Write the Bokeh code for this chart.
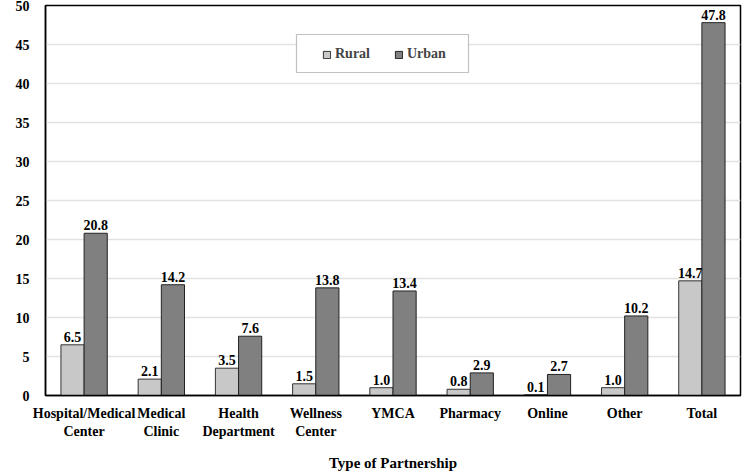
from bokeh.plotting import figure
from bokeh.models import ColumnDataSource, Legend, LegendItem, Label, FixedTicker, LabelSet, BoxAnnotation
from bokeh.transform import dodge
from bokeh.embed import file_html
from bokeh.resources import INLINE
from bokeh.core.properties import value

categories = ["Hospital/Medical\nCenter", "Medical\nClinic", "Health\nDepartment", "Wellness\nCenter",
              "YMCA", "Pharmacy", "Online", "Other", "Total"]
rural = [6.5, 2.1, 3.5, 1.5, 1.0, 0.8, 0.1, 1.0, 14.7]
urban = [20.8, 14.2, 7.6, 13.8, 13.4, 2.9, 2.7, 10.2, 47.8]
y_ticks = [0, 5, 10, 15, 20, 25, 30, 35, 40, 45, 50]

FONT = "'Liberation Serif', serif"
src = ColumnDataSource(dict(cat=categories, rural=rural, urban=urban,
                            rl=[f"{v:.1f}" for v in rural], ul=[f"{v:.1f}" for v in urban]))

p = figure(x_range=categories, y_range=(0, 50), width=748, height=473,
           output_backend="svg", toolbar_location=None,
           min_border_left=45, min_border_right=8, min_border_top=5, min_border_bottom=66)
p.outline_line_color = "black"
p.outline_line_width = 1.5

r1 = p.vbar(x=dodge("cat", -0.15, range=p.x_range), top="rural", width=0.3, source=src,
            fill_color="#c8c8c8", line_color="#333333", line_width=1)
r2 = p.vbar(x=dodge("cat", 0.15, range=p.x_range), top="urban", width=0.3, source=src,
            fill_color="#808080", line_color="#222222", line_width=1)

for col, lab, off in [("rural", "rl", -0.15), ("urban", "ul", 0.15)]:
    ls = LabelSet(x=dodge("cat", off, range=p.x_range), y=col, text=lab, source=src,
                  text_align="center", text_baseline="bottom", y_offset=3,
                  text_font=value(FONT), text_font_style="bold", text_font_size="14px",
                  text_color="black")
    p.add_layout(ls)

p.xgrid.grid_line_color = None
p.ygrid.grid_line_color = "#e2e2e2"
p.ygrid.grid_line_width = 1.5

p.yaxis.ticker = FixedTicker(ticks=y_ticks)
p.yaxis.major_tick_line_color = None
p.yaxis.minor_tick_line_color = None
p.yaxis.axis_line_color = "black"
p.yaxis.axis_line_width = 1.5
p.yaxis.major_label_text_font = FONT
p.yaxis.major_label_text_font_style = "bold"
p.yaxis.major_label_text_font_size = "14px"
p.yaxis.major_label_text_color = "black"
p.yaxis.major_label_standoff = 10

p.xaxis.major_tick_line_color = None
p.xaxis.axis_line_color = "black"
p.xaxis.axis_line_width = 1.5
p.xaxis.major_label_text_font = FONT
p.xaxis.major_label_text_font_style = "bold"
p.xaxis.major_label_text_font_size = "14px"
p.xaxis.major_label_text_color = "black"
p.xaxis.major_label_standoff = 4
p.xaxis.axis_label = "Type of Partnership"
p.xaxis.axis_label_text_font = FONT
p.xaxis.axis_label_text_font_style = "bold"
p.xaxis.axis_label_text_font_size = "15px"
p.xaxis.axis_label_text_color = "black"
p.xaxis.axis_label_standoff = 13

pct = Label(x=-43, y=158, x_units="screen", y_units="screen", text="%",
            text_font=FONT, text_font_style="bold", text_font_size="14px", text_color="black")
p.add_layout(pct)

box = BoxAnnotation(left=251, right=423, top=361, bottom=323,
                    left_units="screen", right_units="screen", top_units="screen", bottom_units="screen",
                    fill_color="white", fill_alpha=1.0, line_color="#333333", line_width=1.2)
p.add_layout(box)

legend = Legend(items=[LegendItem(label="Rural", renderers=[r1]), LegendItem(label="Urban", renderers=[r2])],
                orientation="horizontal", location=(277, 332),
                label_text_font=FONT, label_text_font_style="bold", label_text_font_size="14px",
                glyph_width=9, glyph_height=9, spacing=24, padding=0, margin=0,
                border_line_alpha=0, background_fill_alpha=0,
                label_standoff=4, label_height=18)
p.add_layout(legend, "center")

html = file_html(p, INLINE)
open("out.html", "w").write(html)
